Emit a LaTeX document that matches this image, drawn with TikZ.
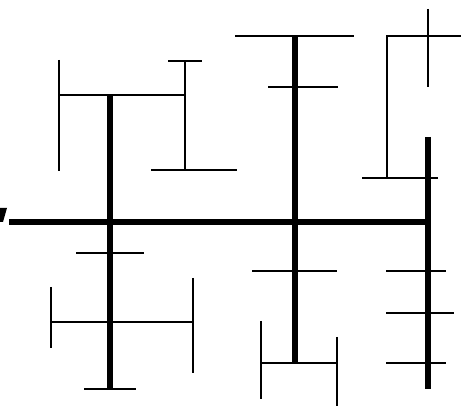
\documentclass[tikz,border=0pt]{standalone}
\begin{document}
\begin{tikzpicture}[x=1pt,y=-1pt,
  thickline/.style={line width=5.5pt,line cap=butt},
  thinline/.style={line width=2.6pt,line cap=butt}]
\useasboundingbox[fill=white] (0,0) rectangle (461,406);
% left edge mark
\fill (0,208) -- (7,208) -- (3,222) -- (0,222) -- cycle;
% main trunk
\draw[thickline] (9,222) -- (431,222);
% left thick branch
\draw[thickline] (110,95) -- (110,389);
\draw[thinline] (59,95) -- (185,95);
\draw[thinline] (59,60) -- (59,171);
\draw[thinline] (185,61) -- (185,170);
\draw[thinline] (168,61) -- (202,61);
\draw[thinline] (151,170) -- (237,170);
\draw[thinline] (76,253) -- (144,253);
\draw[thinline] (51,322) -- (193,322);
\draw[thinline] (51,287) -- (51,348);
\draw[thinline] (193,278) -- (193,373);
\draw[thinline] (84,389) -- (136,389);
% middle thick branch
\draw[thickline] (295,36) -- (295,362);
\draw[thinline] (235,36) -- (354,36);
\draw[thinline] (268,87) -- (338,87);
\draw[thinline] (252,271) -- (337,271);
\draw[thinline] (261,363) -- (337,363);
\draw[thinline] (261,321) -- (261,399);
\draw[thinline] (337,337) -- (337,406);
% right branch
\draw[thickline] (428,137) -- (428,389);
\draw[thinline] (387,178) -- (387,36) -- (461,36);
\draw[thinline] (428,9) -- (428,87);
\draw[thinline] (362,178) -- (438,178);
\draw[thinline] (386,271) -- (446,271);
\draw[thinline] (386,313) -- (454,313);
\draw[thinline] (386,363) -- (446,363);
\end{tikzpicture}
\end{document}
